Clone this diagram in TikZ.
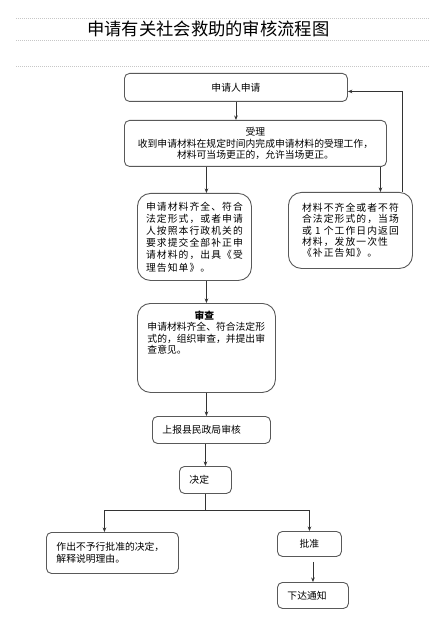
\documentclass[tikz,border=0pt]{standalone}
\usepackage{fontspec}
\newfontfamily\cjk{Noto Sans CJK SC}
\newfontfamily\cjkwide[LetterSpace=11]{Noto Sans CJK SC}
\usetikzlibrary{arrows.meta}

\begin{document}
\begin{tikzpicture}[
    x=1pt, y=-1pt,
    box/.style     = {draw=black!65, line width=0.9pt, rounded corners=5pt, anchor=north west, inner sep=0pt, font=\cjk\fontsize{9.8}{11.5}\selectfont},
    bigbox/.style  = {box, rounded corners=13pt},
    leftbox/.style = {box, align=left, inner xsep=10pt},
    arrow/.style   = {-{Stealth[length=4.5pt, width=3.6pt]}, line width=0.8pt, draw=black!80},
    rule/.style    = {black!22, line width=0.8pt, dash pattern=on 1pt off 1pt}
]
\useasboundingbox (0,0) rectangle (430,620);

% --- Judul ---
\draw[rule] (16,18) -- (430,18);
\draw[rule] (16,40) -- (430,40);
\draw[rule] (16,66) -- (430,66);
\node[anchor=west, inner sep=0pt, font=\cjk\fontsize{17.3}{20}\selectfont] (title) at (87,29) {申请有关社会救助的审核流程图};

% --- Permohonan & penerimaan ---
\node[box, minimum width=223pt, minimum height=28pt] (apply) at (124,73) {申请人申请};
\node[box, minimum width=262pt, minimum height=46pt, align=center] (accept) at (124,120) {受理\\收到申请材料在规定时间内完成申请材料的受理工作，\\材料可当场更正的，允许当场更正。};
\node[bigbox, minimum width=114pt, minimum height=87pt, align=left, font=\cjkwide\fontsize{9.8}{12.2}\selectfont] (complete) at (137,193) {申请材料齐全、符合\\法定形式，或者申请\\人按照本行政机关的\\要求提交全部补正申\\请材料的，出具《受\\理告知单》。};
\node[bigbox, minimum width=124pt, minimum height=76pt, align=left, font=\cjkwide\fontsize{9.8}{11.3}\selectfont] (reject) at (288,192) {材料不齐全或者不符\\合法定形式的，当场\\或 1 个工作日内返回\\材料，发放一次性\\《补正告知》。};

% --- Pemeriksaan ---
\node[bigbox, text width=118pt, align=left, inner xsep=10pt, inner ysep=6pt, text height=10pt, text depth=67pt] (review) at (137,303) {\makebox[114pt]{\textbf{审查}}\\申请材料齐全、符合法定形\\式的，组织审查，并提出审\\查意见。};
\node[leftbox, text width=98pt, minimum height=27pt] (report) at (152,416) {上报县民政局审核};
\node[leftbox, text width=32pt, minimum height=27pt] (decide) at (179,466) {决定};

% --- Keputusan ---
\node[leftbox, text width=112pt, minimum height=41pt] (refuse) at (46,532) {作出不予行批准的决定，\\解释说明理由。};
\node[box, minimum width=64pt, minimum height=25pt] (approve) at (277,531) {批准};
\node[leftbox, text width=51pt, minimum height=26pt] (notify) at (277,582) {下达通知};

% --- Panah ---
\draw[arrow] (apply.south) -- (apply.south |- accept.north);
\draw[arrow] (accept.south -| review.north) -- (complete.north -| review.north);
\draw[arrow] ([xshift=30pt]reject.north |- accept.south) -- ([xshift=30pt]reject.north);
\draw[arrow] ([xshift=-11pt]reject.north east) |- ([yshift=-4pt]apply.east);
\draw[arrow] (complete.south -| review.north) -- (review.north);
\draw[arrow] (review.south) -- (review.south |- report.north);
\draw[arrow] (report.south -| decide.north) -- (decide.north);
\draw[line width=0.8pt, black!80] (decide.south) -- ++(0,16) coordinate (fork);
\draw[arrow] (fork) -| ([xshift=-8pt]refuse.north);
\draw[arrow] (fork) -| (approve.north);
\draw[arrow, shorten <=5pt] (approve.south -| notify.north) -- (notify.north);

\end{tikzpicture}
\end{document}
